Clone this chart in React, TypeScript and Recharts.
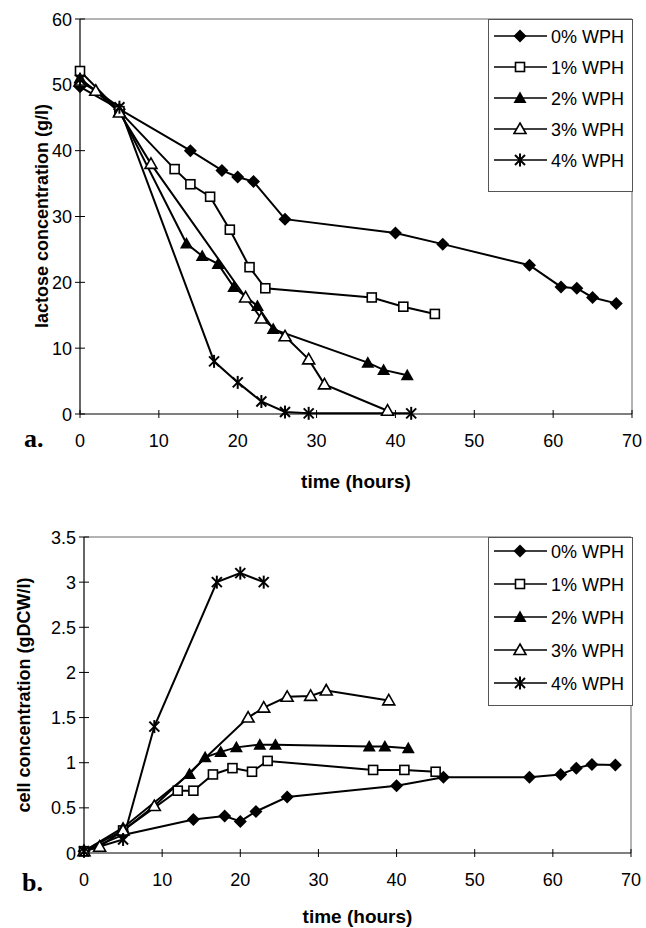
import React from 'react';
import { LineChart, Line, XAxis, YAxis, ReferenceLine, Legend } from 'recharts';

const seriesNames = ['0% WPH', '1% WPH', '2% WPH', '3% WPH', '4% WPH'];
const markerShapes = ['diamond', 'square', 'triangle', 'triangleOpen', 'star'];

const xTicks = [0, 10, 20, 30, 40, 50, 60, 70];
const lactoseTicks = [0, 10, 20, 30, 40, 50, 60];
const cellTicks = [0, 0.5, 1, 1.5, 2, 2.5, 3, 3.5];

// (a) lactose concentration (g/l)
const lacTime0 = [0, 5, 14, 18, 20, 22, 26, 40, 46, 57, 61, 63, 65, 68];
const lac0 = [49.7, 46.3, 40, 37, 36, 35.3, 29.6, 27.5, 25.8, 22.6, 19.3, 19.1, 17.7, 16.8];
const lacTime1 = [0, 5, 12, 14, 16.5, 19, 21.5, 23.5, 37, 41, 45];
const lac1 = [52.1, 46, 37.2, 34.9, 33, 28, 22.3, 19.1, 17.7, 16.3, 15.2];
const lacTime2 = [0, 5, 13.5, 15.5, 17.5, 19.5, 22.5, 24.5, 36.5, 38.5, 41.5];
const lac2 = [51, 46, 25.9, 24, 22.8, 19.3, 16.4, 12.9, 7.8, 6.7, 5.9];
const lacTime3 = [0, 2, 5, 9, 21, 23, 26, 29, 31, 39];
const lac3 = [50.5, 49.1, 45.8, 38, 17.7, 14.5, 11.8, 8.3, 4.5, 0.5];
const lacTime4 = [0, 5, 17, 20, 23, 26, 29, 42];
const lac4 = [50.8, 46.6, 8, 4.8, 1.9, 0.3, 0.1, 0.1];

// (b) cell concentration (gDCW/l)
const cellTime0 = [0, 5, 14, 18, 20, 22, 26, 40, 46, 57, 61, 63, 65, 68];
const cell0 = [0.02, 0.2, 0.37, 0.41, 0.35, 0.46, 0.62, 0.745, 0.84, 0.84, 0.87, 0.94, 0.98, 0.975];
const cellTime1 = [0, 5, 12, 14, 16.5, 19, 21.5, 23.5, 37, 41, 45];
const cell1 = [0.02, 0.25, 0.69, 0.69, 0.87, 0.94, 0.9, 1.02, 0.92, 0.92, 0.9];
const cellTime2 = [0, 5, 13.5, 15.5, 17.5, 19.5, 22.5, 24.5, 36.5, 38.5, 41.5];
const cell2 = [0.02, 0.28, 0.875, 1.06, 1.12, 1.17, 1.2, 1.2, 1.18, 1.18, 1.16];
const cellTime3 = [0, 2, 5, 9, 21, 23, 26, 29, 31, 39];
const cell3 = [0.02, 0.07, 0.25, 0.52, 1.5, 1.61, 1.73, 1.74, 1.8, 1.69];
const cellTime4 = [0, 5, 9, 17, 20, 23];
const cell4 = [0.02, 0.15, 1.4, 3.0, 3.1, 3.0];

const toPoints = (xs: number[], ys: number[]) => xs.map((x, i) => ({ x, y: ys[i] }));

const lactoseSeries = [
  toPoints(lacTime0, lac0),
  toPoints(lacTime1, lac1),
  toPoints(lacTime2, lac2),
  toPoints(lacTime3, lac3),
  toPoints(lacTime4, lac4),
];
const cellSeries = [
  toPoints(cellTime0, cell0),
  toPoints(cellTime1, cell1),
  toPoints(cellTime2, cell2),
  toPoints(cellTime3, cell3),
  toPoints(cellTime4, cell4),
];

const SANS = '"Liberation Sans", Arial, Helvetica, sans-serif';
const SERIF = '"Liberation Serif", "Times New Roman", serif';

function Marker({ shape, cx, cy }: { shape: string; cx: number; cy: number }) {
  if (cx == null || cy == null || isNaN(cx) || isNaN(cy)) return null;
  switch (shape) {
    case 'diamond':
      return <polygon points={`${cx},${cy - 6.5} ${cx + 6.5},${cy} ${cx},${cy + 6.5} ${cx - 6.5},${cy}`} fill="#000" />;
    case 'square':
      return <rect x={cx - 4.5} y={cy - 4.5} width={9} height={9} fill="#fff" stroke="#000" strokeWidth={1.6} />;
    case 'triangle':
      return <polygon points={`${cx},${cy - 6.5} ${cx + 6.5},${cy + 5} ${cx - 6.5},${cy + 5}`} fill="#000" />;
    case 'triangleOpen':
      return <polygon points={`${cx},${cy - 6} ${cx + 6},${cy + 4.5} ${cx - 6},${cy + 4.5}`} fill="#fff" stroke="#000" strokeWidth={1.6} />;
    case 'star':
      return (
        <g stroke="#000" strokeWidth={2}>
          <line x1={cx - 5} y1={cy - 5} x2={cx + 5} y2={cy + 5} />
          <line x1={cx - 5} y1={cy + 5} x2={cx + 5} y2={cy - 5} />
          <line x1={cx} y1={cy - 6.5} x2={cx} y2={cy + 6.5} />
        </g>
      );
    default:
      return null;
  }
}

const makeDot = (shape: string) => (props: any) => (
  <Marker key={`${shape}-${props.index}`} shape={shape} cx={props.cx} cy={props.cy} />
);

const XTick = (props: any) => {
  const { x, y, payload } = props;
  return (
    <g>
      <line x1={x} x2={x} y1={y - 4} y2={y + 4} stroke="#000" strokeWidth={1} />
      <text x={x} y={y + 33} textAnchor="middle" fontSize={18} fontFamily={SANS} fill="#000">
        {payload.value}
      </text>
    </g>
  );
};

const YTick = (props: any) => {
  const { x, y, payload } = props;
  return (
    <g>
      <line x1={x - 5} x2={x + 5} y1={y} y2={y} stroke="#000" strokeWidth={1} />
      <text x={x - 8} y={y + 6.5} textAnchor="end" fontSize={18} fontFamily={SANS} fill="#000">
        {payload.value}
      </text>
    </g>
  );
};

const makeLegend = (spacing: number, firstY: number, height: number) => () => (
  <svg width={146} height={height + 2} style={{ display: 'block' }}>
    <rect x={0.5} y={0.5} width={144} height={height} fill="#fff" stroke="#555" strokeWidth={1} />
    {seriesNames.map((name, i) => {
      const cy = firstY + i * spacing;
      return (
        <g key={name}>
          <line x1={6} x2={59} y1={cy} y2={cy} stroke="#000" strokeWidth={1.6} />
          <Marker shape={markerShapes[i]} cx={32} cy={cy} />
          <text x={63} y={cy + 6.5} fontSize={18} fontFamily={SANS} fill="#000">
            {name}
          </text>
        </g>
      );
    })}
  </svg>
);

function XTitle(baselineOffset: number) {
  return (props: any) => {
    const vb = props.viewBox || {};
    return (
      <text
        x={vb.x + vb.width / 2}
        y={vb.y + baselineOffset}
        textAnchor="middle"
        fontSize={19}
        fontWeight="bold"
        fontFamily={SANS}
        fill="#000"
      >
        time (hours)
      </text>
    );
  };
}

function YTitle(text: string, xPos: number, centerY: number) {
  return () => (
    <text
      x={xPos}
      y={centerY}
      transform={`rotate(-90 ${xPos} ${centerY})`}
      textAnchor="middle"
      fontSize={18}
      fontWeight="bold"
      fontFamily={SANS}
      fill="#000"
    >
      {text}
    </text>
  );
}

export default function App() {
  return (
    <div style={{ position: 'absolute', left: 0, top: 0, width: 646, height: 928, background: '#fff' }}>
      <div style={{ position: 'absolute', left: 0, top: 0 }}>
        <LineChart width={646} height={500} margin={{ top: 19, right: 14, bottom: 0, left: 0 }}>
          <XAxis
            dataKey="x"
            type="number"
            domain={[0, 70]}
            ticks={xTicks}
            interval={0}
            height={86}
            tickSize={0}
            tickMargin={0}
            tickLine={false}
            tick={XTick}
            axisLine={{ stroke: '#000', strokeWidth: 1.2 }}
            label={{ content: XTitle(74) }}
          />
          <YAxis
            type="number"
            domain={[0, 60]}
            ticks={lactoseTicks}
            interval={0}
            width={80}
            tickSize={0}
            tickMargin={0}
            tickLine={false}
            tick={YTick}
            axisLine={{ stroke: '#000', strokeWidth: 1.2 }}
            label={{ content: YTitle('lactose concentration (g/l)', 48, 216) }}
          />
          <ReferenceLine y={60} stroke="#666" strokeWidth={1} ifOverflow="extendDomain" />
          <ReferenceLine x={70} stroke="#666" strokeWidth={1} ifOverflow="extendDomain" />
          {lactoseSeries.map((pts, i) => (
            <Line
              key={seriesNames[i]}
              data={pts}
              dataKey="y"
              name={seriesNames[i]}
              stroke="#000"
              strokeWidth={2}
              dot={makeDot(markerShapes[i])}
              activeDot={false}
              isAnimationActive={false}
            />
          ))}
          <Legend
            layout="horizontal"
            verticalAlign="middle"
            align="center"
            content={makeLegend(31, 17, 172)}
            wrapperStyle={{ position: 'absolute', left: 488, top: 19, width: 146, height: 174 }}
          />
        </LineChart>
        <div style={{ position: 'absolute', left: 24, top: 424, fontFamily: SERIF, fontWeight: 'bold', fontSize: 26, lineHeight: '30px' }}>
          a.
        </div>
      </div>
      <div style={{ position: 'absolute', left: 0, top: 500 }}>
        <LineChart width={646} height={428} margin={{ top: 37, right: 15, bottom: 0, left: 0 }}>
          <XAxis
            dataKey="x"
            type="number"
            domain={[0, 70]}
            ticks={xTicks}
            interval={0}
            height={75}
            tickSize={0}
            tickMargin={0}
            tickLine={false}
            tick={XTick}
            axisLine={{ stroke: '#000', strokeWidth: 1.2 }}
            label={{ content: XTitle(70) }}
          />
          <YAxis
            type="number"
            domain={[0, 3.5]}
            ticks={cellTicks}
            interval={0}
            width={84}
            tickSize={0}
            tickMargin={0}
            tickLine={false}
            tick={YTick}
            axisLine={{ stroke: '#000', strokeWidth: 1.2 }}
            label={{ content: YTitle('cell concentration (gDCW/l)', 30, 195) }}
          />
          <ReferenceLine y={3.5} stroke="#666" strokeWidth={1} ifOverflow="extendDomain" />
          <ReferenceLine x={70} stroke="#666" strokeWidth={1} ifOverflow="extendDomain" />
          {cellSeries.map((pts, i) => (
            <Line
              key={seriesNames[i]}
              data={pts}
              dataKey="y"
              name={seriesNames[i]}
              stroke="#000"
              strokeWidth={2}
              dot={makeDot(markerShapes[i])}
              activeDot={false}
              isAnimationActive={false}
            />
          ))}
          <Legend
            layout="horizontal"
            verticalAlign="middle"
            align="center"
            content={makeLegend(33, 14, 168)}
            wrapperStyle={{ position: 'absolute', left: 488, top: 37, width: 146, height: 170 }}
          />
        </LineChart>
        <div style={{ position: 'absolute', left: 22, top: 368, fontFamily: SERIF, fontWeight: 'bold', fontSize: 26, lineHeight: '30px' }}>
          b.
        </div>
      </div>
    </div>
  );
}
